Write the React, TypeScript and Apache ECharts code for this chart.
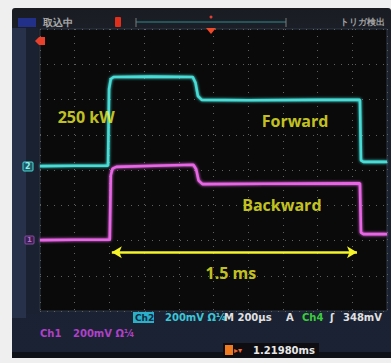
import React, { useEffect, useRef } from "react";
import * as echarts from "echarts";

// Oscilloscope screen: 10 horizontal x 8 vertical divisions
const xDivisions = 10;
const yDivisions = 8;

// Ch2 (cyan, forward power) trace, [division x, division y]
const forwardTrace: [number, number][] = [
  [0, 4.11], [1.0, 4.12], [1.96, 4.12], [1.99, 6.3], [2.04, 6.58], [2.12, 6.64],
  [3.2, 6.65], [4.4, 6.64], [4.48, 6.48], [4.55, 6.1], [4.66, 5.99], [6.0, 5.98],
  [8.0, 5.99], [9.22, 5.99], [9.25, 4.27], [9.32, 4.23], [10, 4.23],
];

// Ch1 (magenta, backward power) trace
const backwardTrace: [number, number][] = [
  [0, 2.01], [1.0, 2.02], [2.01, 2.02], [2.04, 3.85], [2.09, 4.04], [2.2, 4.09],
  [3.3, 4.12], [4.42, 4.15], [4.5, 4.02], [4.57, 3.7], [4.68, 3.6], [6.5, 3.61],
  [9.22, 3.62], [9.25, 2.22], [9.32, 2.18], [10, 2.18],
];

// Annotations
const annotationTexts = ["250 kW", "Forward", "Backward", "1.5 ms"];
const annotationX = [1.33, 7.35, 6.97, 5.5];
const annotationY = [5.5, 5.39, 3.01, 1.08];

// Pulse width arrow
const spanStart = 2.07;
const spanEnd = 9.135;
const spanLevel = 1.67;

// Status texts
const statusLeft = "取込中";
const statusRight = "トリガ検出";
const ch2Settings = "200mV Ω¼";
const timebase = "M 200μs";
const triggerSource = "Ch4";
const triggerLevel = "348mV";
const ch1Settings = "200mV Ω¼";
const triggerTime = "1.21980ms";

const CYAN = "#46dcd6";
const MAGENTA = "#e866e6";
const YELLOW = "#f4f428";
const infoFont = "DejaVu Sans";

export default function App() {
  const ref = useRef<HTMLDivElement>(null);
  useEffect(() => {
    document.body.style.margin = "0";
    const chart = echarts.init(ref.current!, undefined, { renderer: "svg" });
    const axisCommon = {
      axisLine: { show: false },
      axisTick: { show: false },
      axisLabel: { show: false },
      splitLine: { show: true, lineStyle: { color: "#606060", type: [1, 6] as any, width: 1 } },
    };
    const infoText = (x: number, y: number, text: string, fill: string, size = 10) => ({
      type: "text", x, y, z: 50,
      style: { text, fill, font: `bold ${size}px "${infoFont}"`, textVerticalAlign: "middle" },
    });
    chart.setOption({
      animation: false,
      backgroundColor: "#efefef",
      grid: { left: 40, right: 4, top: 29, bottom: 52, show: false },
      xAxis: { type: "value", min: 0, max: xDivisions, interval: 1, ...axisCommon },
      yAxis: { type: "value", min: 0, max: yDivisions, interval: 1, ...axisCommon },
      graphic: [
        // bezel
        { type: "rect", z: -100, shape: { x: 12, y: 8, width: 379, height: 350, r: 3 },
          style: { fill: new echarts.graphic.LinearGradient(0, 0, 0, 1, [
            { offset: 0, color: "#1a1c22" }, { offset: 0.1, color: "#1b2029" },
            { offset: 1, color: "#1a2234" }]) } },
        { type: "rect", z: -99, shape: { x: 12, y: 28, width: 14, height: 290 },
          style: { fill: "#27324a" } },
        { type: "rect", z: -99, shape: { x: 26, y: 28, width: 12, height: 286 },
          style: { fill: "#1a2232" } },
        { type: "rect", z: -99, shape: { x: 12, y: 352, width: 379, height: 6 },
          style: { fill: "#0e1118" } },
        // plot area
        { type: "rect", z: -90, shape: { x: 40, y: 29, width: 347, height: 282 },
          style: { fill: "#0a0a0a", stroke: "#2e3846", lineWidth: 1 } },
        // top status bar
        { type: "rect", z: 50, shape: { x: 18, y: 18, width: 18, height: 9 }, style: { fill: "#22308a" } },
        infoText(43, 22, statusLeft, "#a8a8a8", 10),
        { type: "rect", z: 50, shape: { x: 115, y: 17, width: 6, height: 10, r: 1 }, style: { fill: "#e0301c" } },
        { type: "line", z: 50, shape: { x1: 136, y1: 22, x2: 286, y2: 22 }, style: { stroke: "#24545a", lineWidth: 2 } },
        { type: "line", z: 50, shape: { x1: 136, y1: 18, x2: 136, y2: 27 }, style: { stroke: "#7a7a7a", lineWidth: 1 } },
        { type: "line", z: 50, shape: { x1: 286, y1: 18, x2: 286, y2: 27 }, style: { stroke: "#7a7a7a", lineWidth: 1 } },
        { type: "circle", z: 50, shape: { cx: 211, cy: 17, r: 1.5 }, style: { fill: "#e04030" } },
        { type: "polygon", z: 50, shape: { points: [[206, 28], [216, 28], [211, 34]] }, style: { fill: "#ee4a2a" } },
        infoText(340, 22, statusRight, "#a0a0a0", 9),
        // trigger level marker
        { type: "polygon", z: 50, shape: { points: [[35, 41], [39, 37], [45, 37], [45, 45], [39, 45]] }, style: { fill: "#e8402a" } },
        // channel markers
        { type: "rect", z: 50, shape: { x: 23, y: 162, width: 10, height: 9, r: 1 }, style: { fill: "#1f5a66", stroke: CYAN, lineWidth: 1 } },
        infoText(25, 166.5, "2", "#8af0ee", 8),
        { type: "rect", z: 50, shape: { x: 25, y: 236, width: 9, height: 8, r: 1 }, style: { fill: "#3a2050", stroke: "#8a4aa8", lineWidth: 1 } },
        infoText(27, 240, "1", "#b070c0", 7),
        // bottom info
        { type: "rect", z: 50, shape: { x: 133, y: 312, width: 21, height: 11 }, style: { fill: "#2bb0cc" } },
        infoText(135, 317.5, "Ch2", "#0d2a40", 9),
        infoText(165, 317.5, ch2Settings, "#3cc6d6", 10),
        infoText(224, 317.5, timebase, "#e0e0e0", 10),
        infoText(286, 317.5, "A", "#e0e0e0", 10),
        infoText(302, 317.5, triggerSource, "#3ccc3c", 10),
        infoText(330, 317.5, "ʃ", "#e0e0e0", 10),
        infoText(343, 317.5, triggerLevel, "#e0e0e0", 10),
        infoText(40, 333, "Ch1", "#b040c8", 10),
        infoText(73, 333, ch1Settings, "#b040c8", 10),
        { type: "rect", z: 49, shape: { x: 223, y: 343, width: 96, height: 14 }, style: { fill: "#0e0e12" } },
        { type: "rect", z: 50, shape: { x: 225, y: 345, width: 8, height: 10 }, style: { fill: "#f07a20" } },
        infoText(234, 350, "▸▾", "#f06a30", 8),
        infoText(253, 350, triggerTime, "#e8e8e8", 10),
      ] as any,
      series: [
        {
          type: "line", data: forwardTrace, showSymbol: false, z: 5,
          lineStyle: { color: CYAN, width: 2.6, shadowColor: CYAN, shadowBlur: 3 },
        },
        {
          type: "line", data: backwardTrace, showSymbol: false, z: 5,
          lineStyle: { color: MAGENTA, width: 2.6, shadowColor: MAGENTA, shadowBlur: 3 },
          markLine: {
            silent: true, symbol: ["arrow", "arrow"], symbolSize: [9, 10],
            label: { show: false },
            lineStyle: { color: YELLOW, width: 2.5, type: "solid" },
            data: [[{ coord: [spanStart, spanLevel] }, { coord: [spanEnd, spanLevel] }]],
          },
        },
        {
          type: "scatter", symbolSize: 0, z: 10, itemStyle: { color: YELLOW },
          data: annotationTexts.map((t, i) => ({ name: t, value: [annotationX[i], annotationY[i]] })),
          label: {
            show: true, position: "inside", formatter: "{b}", color: YELLOW,
            textBorderWidth: 0, textBorderColor: "transparent",
            fontFamily: "Open Sans", fontWeight: "bold", fontSize: 16,
          },
        },
      ],
    });
    return () => chart.dispose();
  }, []);
  return <div ref={ref} style={{ position: "absolute", left: 0, top: 0, width: 391, height: 363 }} />;
}
